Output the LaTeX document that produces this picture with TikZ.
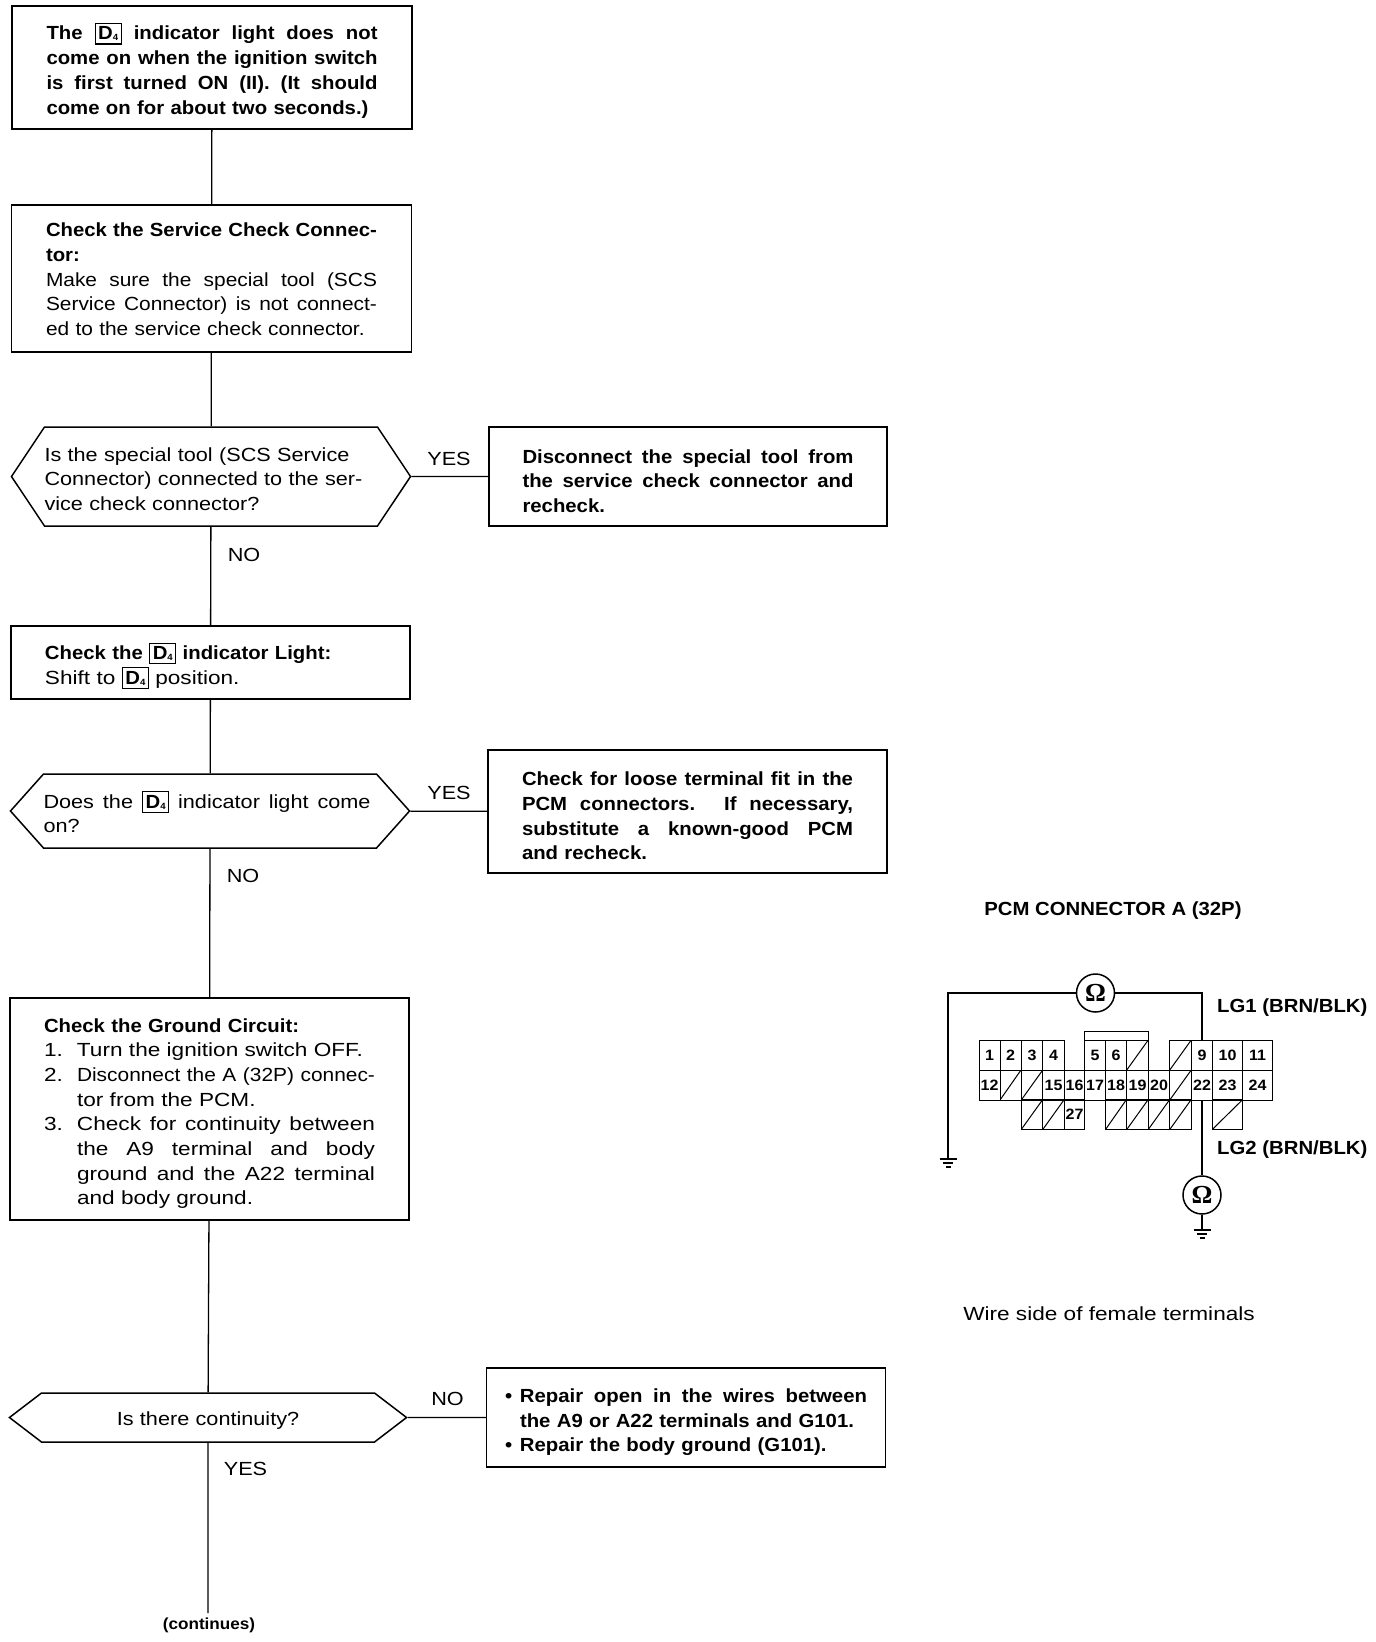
\documentclass[tikz,border=0pt]{standalone}
\usepackage{fontspec}
\setmainfont{Liberation Sans}[FakeStretch=1.14, BoldFeatures={FakeStretch=1.07}]
\newfontfamily\omegafont{Liberation Serif}
\newfontfamily\widefont{Liberation Sans}[FakeStretch=1.19, BoldFeatures={FakeStretch=1.07}]
\newfontfamily\slimfont{Liberation Sans}[FakeStretch=1.10, BoldFeatures={FakeStretch=1.07}]
\usepackage{tikz}
\usetikzlibrary{shapes.symbols}
\newcommand{\bodyfont}{\fontsize{19}{24.7}\selectfont}
\newcommand{\dfour}{{\setlength{\fboxsep}{2.5pt}\setlength{\fboxrule}{1.1pt}\fbox{\textbf{D}\raisebox{-1pt}{\fontsize{9}{9}\selectfont\textbf{4}}}}}
\newcommand{\fullto}[2]{\leavevmode\hbox to #1{\spaceskip=0pt\xspaceskip=0pt\relax #2}}
\newcommand{\fullline}[1]{\fullto{\hsize}{#1}}
\newcommand{\numline}[2]{\makebox[33pt][l]{#1}#2}
\newcommand{\numfull}[2]{\makebox[33pt][l]{#1}\fullto{298pt}{#2}}
\tikzset{
    flowbox/.style={draw, line width=1.5pt, rectangle, minimum width=400pt, text width=331pt, align=left, inner xsep=0pt, inner ysep=0pt, font=\bodyfont, execute at begin node={\rule{0pt}{23pt}}},
    decision/.style={draw, line width=1.5pt, signal, signal to=west and east, signal pointer angle=#1, text width=333pt, align=left, inner xsep=0pt, inner ysep=0pt, font=\bodyfont, execute at begin node={\rule{0pt}{19pt}}},
    flowlabel/.style={font=\bodyfont, inner sep=0pt},
    flowline/.style={line width=1.3pt},
    wire/.style={line width=1.2pt},
    cell/.style={draw, line width=1pt, rectangle, minimum height=#1, inner sep=0pt, font=\fontsize{15}{15}\selectfont\bfseries},
    slashcell/.style={cell=#1, path picture={\draw [line width=1pt] (path picture bounding box.south west) -- (path picture bounding box.north east);}},
    meter/.style={draw, line width=1.5pt, circle, minimum size=38pt, inner sep=0pt, font=\fontsize{26}{26}\selectfont\omegafont\bfseries},
    groundbars/.pic={
        \draw [line width=1.2pt] (-8.5, 0) -- (8.5, 0);
        \draw [line width=1.2pt] (-5, 4) -- (5, 4);
        \draw [line width=1.2pt] (-2.5, 8) -- (2.5, 8);
    }
}

\begin{document}
\begin{tikzpicture}[x=1pt, y=-1pt]
    \useasboundingbox (0, 0) rectangle (1376, 1642);

    \node (firstcheck) [flowbox, minimum height=123pt, font=\bodyfont\bfseries] at (212, 67.5) {\fullline{The \dfour{} indicator light does not}\\
        \fullline{come on when the ignition switch}\\
        \fullline{is first turned ON (II). (It should}\\
        come on for about two seconds.)};
    \node (servicecheck) [flowbox, minimum height=147pt, font=\bodyfont\slimfont] at (211.5, 278.5) {\fullline{\bfseries Check the Service Check Connec-}\\
        \textbf{tor:}\\
        \fullline{Make sure the special tool (SCS}\\
        \fullline{Service Connector) is not connect-}\\
        ed to the service check connector.\rule[-8pt]{0pt}{8pt}};
    \node (toolask) [decision=112.6, minimum height=99pt] at (211, 476.5) {Is the special tool (SCS Service\\
        Connector) connected to the ser-\\
        vice check connector?};
    \node (toolfix) [flowbox, minimum height=99pt, minimum width=398pt, font=\bodyfont\bfseries] at (688, 476.5) {\fullline{Disconnect the special tool from}\\
        \fullline{the service check connector and}\\
        recheck.};
    \node (lightcheck) [flowbox, minimum height=73pt, minimum width=399pt, font=\bodyfont\widefont] at (210.5, 662.5) {\textbf{Check the \dfour{} indicator Light:}\\
        Shift to \dfour{} position.};
    \node (lightask) [decision=96.5, minimum height=74pt] at (210, 811) {\fullto{327pt}{Does the \dfour{} indicator light come}\\
        on?};
    \node (lightfix) [flowbox, minimum height=123pt, minimum width=399pt, font=\bodyfont\bfseries] at (687.5, 811.5) {\fullline{Check for loose terminal fit in the}\\
        \fullline{PCM connectors. If necessary,}\\
        \fullline{substitute a known-good PCM}\\
        and recheck.};
    \node (groundcheck) [flowbox, minimum height=222pt, minimum width=399pt, font=\bodyfont\widefont] at (209.5, 1109) {\textbf{Check the Ground Circuit:}\\
        \numline{1.}{Turn the ignition switch OFF.}\\
        \numfull{2.}{\slimfont Disconnect the A (32P) connec-}\\
        \numline{}{tor from the PCM.}\\
        \numfull{3.}{Check for continuity between}\\
        \numfull{}{the A9 terminal and body}\\
        \numfull{}{ground and the A22 terminal}\\
        \numline{}{and body ground.}};
    \node (contask) [decision=74.8, minimum height=49pt, align=center] at (208, 1417.5) {Is there continuity?};
    \node (contfix) [flowbox, minimum height=99pt, minimum width=399pt, text width=362pt, font=\bodyfont\bfseries] at (686, 1417.5) {\fullline{\makebox[15pt][l]{\textbullet}Repair open in the wires between}\\
        \makebox[15pt][l]{}the A9 or A22 terminals and G101.\\
        \makebox[15pt][l]{\textbullet}Repair the body ground (G101).};
    \coordinate (contend) at (208, 1613);
    \node (continues) [flowlabel, font=\fontsize{16}{16}\selectfont\bfseries] at (209, 1625) {(continues)};

    \draw [flowline] (firstcheck) -- (servicecheck);
    \draw [flowline] (servicecheck) -- (toolask);
    \draw [flowline] (toolask) -- (lightcheck);
    \draw [flowline] (lightcheck) -- (lightask);
    \draw [flowline] (lightask) -- (groundcheck);
    \draw [flowline] (groundcheck) -- (contask);
    \draw [flowline] (contask) -- (contend);
    \draw [flowline] (toolask) -- (toolfix);
    \draw [flowline] (lightask) -- (lightfix);
    \draw [flowline] (contask) -- (contfix);

    \node (toolyes) [flowlabel] at (449, 459) {YES};
    \node (toolno) [flowlabel] at (244, 555) {NO};
    \node (lightyes) [flowlabel] at (449, 793) {YES};
    \node (lightno) [flowlabel] at (243, 876) {NO};
    \node (contno) [flowlabel] at (447.5, 1399) {NO};
    \node (contyes) [flowlabel] at (245.5, 1469) {YES};

    \node (pcmtitle) [flowlabel, font=\bodyfont\bfseries] at (1113, 911) {PCM CONNECTOR A (32P)};
    \node (lgone) [flowlabel, font=\bodyfont\bfseries, anchor=west] at (1217, 1008) {LG1 (BRN/BLK)};
    \node (lgtwo) [flowlabel, font=\bodyfont\bfseries, anchor=west] at (1217, 1150) {LG2 (BRN/BLK)};
    \node (wireside) [flowlabel, font=\bodyfont\widefont] at (1109, 1314) {Wire side of female terminals};

    \foreach \cname/\cx/\cw/\cy/\ch in {
        c1/989.5/21/1055/1, c2/1010.5/21/1055/2, c3/1032/21.5/1055/3, c4/1053.5/21.5/1055/4,
        c5/1095/21/1055/5, c6/1116/21/1055/6, c9/1202/21/1055/9, c10/1227.5/30.5/1055/10, c11/1257.5/29.5/1055/11,
        c12/989.5/21/1085/12, c15/1053.5/21.5/1085/15, c16/1074.5/20.5/1085/16, c17/1095/21/1085/17,
        c18/1116/21/1085/18, c19/1137.5/21.5/1085/19, c20/1159/21.5/1085/20, c22/1202/21/1085/22,
        c23/1227.5/30.5/1085/23, c24/1257.5/29.5/1085/24, c27/1074.5/20.5/1114.5/27}
        \node (\cname) [cell=30pt, minimum width=\cw pt] at (\cx, \cy) {\ch};
    \foreach \sname/\cx/\cw/\cy in {
        s7/1137.5/21.5/1055, s8/1180.5/21.5/1055, s13/1010.5/21/1085, s14/1032/21.5/1085, s21/1180.5/21.5/1085,
        s25/1032/21.5/1114.5, s26/1053.5/21.5/1114.5, s28/1116/21/1114.5, s29/1137.5/21.5/1114.5,
        s30/1159/21.5/1114.5, s31/1180.5/21.5/1114.5, s32/1227.5/30.5/1114.5}
        \node (\sname) [slashcell=30pt, minimum width=\cw pt] at (\cx, \cy) {};

    \node (meterone) [meter] at (1095.5, 993) {Ω};
    \node (metertwo) [meter] at (1202, 1195) {Ω};
    \coordinate (groundone) at (948, 1159);
    \coordinate (groundtwo) at (1202, 1230);

    \draw [wire] (meterone.west) -| (groundone);
    \draw [wire] (meterone.east) -| (c9.north);
    \draw [wire] (c22.south) -- (metertwo.north);
    \draw [wire] (metertwo.south) -- (groundtwo);
    \draw [line width=1pt] (c5.north west) -- ++(0, -8) -| (s7.north east);
    \pic at (groundone) {groundbars};
    \pic at (groundtwo) {groundbars};
\end{tikzpicture}
\end{document}
